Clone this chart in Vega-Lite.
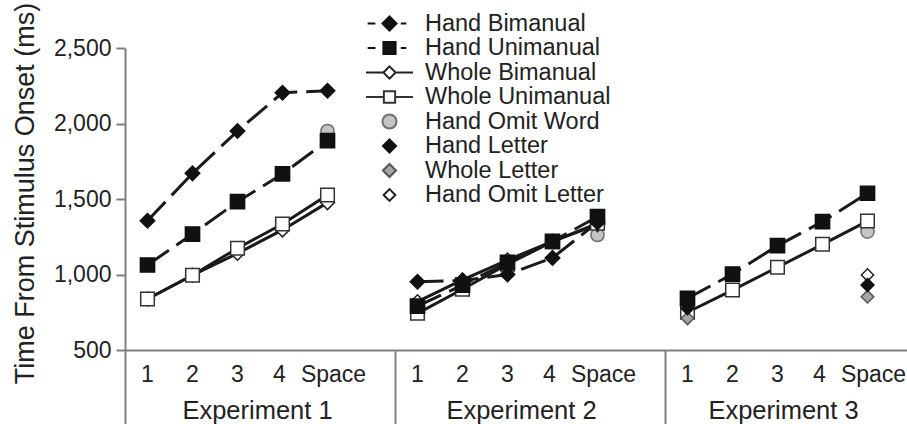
{
  "$schema": "https://vega.github.io/schema/vega-lite/v6.json",
  "width": 782,
  "height": 302,
  "autosize": {"type": "none"},
  "padding": {"left": 125, "top": 48, "right": 0, "bottom": 74},
  "background": "white",
  "config": {
    "view": {"stroke": null},
    "font": "Liberation Sans",
    "axis": {"labelFont": "Liberation Sans", "titleFont": "Liberation Sans"},
    "legend": {"labelFont": "Liberation Sans"}
  },
  "data": {
    "values": [
      {"exp": 1, "slot": "1|Space", "series": "Hand Omit Word", "ms": 1950},
      {"exp": 2, "slot": "2|Space", "series": "Hand Omit Word", "ms": 1262},
      {"exp": 3, "slot": "3|Space", "series": "Hand Omit Word", "ms": 1284},
      {"exp": 1, "slot": "1|1", "series": "Whole Bimanual", "ms": 838},
      {"exp": 1, "slot": "1|2", "series": "Whole Bimanual", "ms": 995},
      {"exp": 1, "slot": "1|3", "series": "Whole Bimanual", "ms": 1140},
      {"exp": 1, "slot": "1|4", "series": "Whole Bimanual", "ms": 1295},
      {"exp": 1, "slot": "1|Space", "series": "Whole Bimanual", "ms": 1476},
      {"exp": 2, "slot": "2|1", "series": "Whole Bimanual", "ms": 820},
      {"exp": 2, "slot": "2|2", "series": "Whole Bimanual", "ms": 964},
      {"exp": 2, "slot": "2|3", "series": "Whole Bimanual", "ms": 1096},
      {"exp": 2, "slot": "2|4", "series": "Whole Bimanual", "ms": 1220},
      {"exp": 2, "slot": "2|Space", "series": "Whole Bimanual", "ms": 1330},
      {"exp": 1, "slot": "1|1", "series": "Whole Unimanual", "ms": 838},
      {"exp": 1, "slot": "1|2", "series": "Whole Unimanual", "ms": 995},
      {"exp": 1, "slot": "1|3", "series": "Whole Unimanual", "ms": 1174},
      {"exp": 1, "slot": "1|4", "series": "Whole Unimanual", "ms": 1334},
      {"exp": 1, "slot": "1|Space", "series": "Whole Unimanual", "ms": 1527},
      {"exp": 2, "slot": "2|1", "series": "Whole Unimanual", "ms": 743},
      {"exp": 2, "slot": "2|2", "series": "Whole Unimanual", "ms": 902},
      {"exp": 2, "slot": "2|3", "series": "Whole Unimanual", "ms": 1068},
      {"exp": 2, "slot": "2|4", "series": "Whole Unimanual", "ms": 1217},
      {"exp": 2, "slot": "2|Space", "series": "Whole Unimanual", "ms": 1339},
      {"exp": 3, "slot": "3|1", "series": "Whole Unimanual", "ms": 750},
      {"exp": 3, "slot": "3|2", "series": "Whole Unimanual", "ms": 897},
      {"exp": 3, "slot": "3|3", "series": "Whole Unimanual", "ms": 1048},
      {"exp": 3, "slot": "3|4", "series": "Whole Unimanual", "ms": 1200},
      {"exp": 3, "slot": "3|Space", "series": "Whole Unimanual", "ms": 1354},
      {"exp": 1, "slot": "1|1", "series": "Hand Unimanual", "ms": 1063},
      {"exp": 1, "slot": "1|2", "series": "Hand Unimanual", "ms": 1268},
      {"exp": 1, "slot": "1|3", "series": "Hand Unimanual", "ms": 1482},
      {"exp": 1, "slot": "1|4", "series": "Hand Unimanual", "ms": 1666},
      {"exp": 1, "slot": "1|Space", "series": "Hand Unimanual", "ms": 1886},
      {"exp": 2, "slot": "2|1", "series": "Hand Unimanual", "ms": 790},
      {"exp": 2, "slot": "2|2", "series": "Hand Unimanual", "ms": 930},
      {"exp": 2, "slot": "2|3", "series": "Hand Unimanual", "ms": 1080},
      {"exp": 2, "slot": "2|4", "series": "Hand Unimanual", "ms": 1220},
      {"exp": 2, "slot": "2|Space", "series": "Hand Unimanual", "ms": 1383},
      {"exp": 3, "slot": "3|1", "series": "Hand Unimanual", "ms": 842},
      {"exp": 3, "slot": "3|2", "series": "Hand Unimanual", "ms": 1003},
      {"exp": 3, "slot": "3|3", "series": "Hand Unimanual", "ms": 1191},
      {"exp": 3, "slot": "3|4", "series": "Hand Unimanual", "ms": 1350},
      {"exp": 3, "slot": "3|Space", "series": "Hand Unimanual", "ms": 1538},
      {"exp": 1, "slot": "1|1", "series": "Hand Bimanual", "ms": 1356},
      {"exp": 1, "slot": "1|2", "series": "Hand Bimanual", "ms": 1670},
      {"exp": 1, "slot": "1|3", "series": "Hand Bimanual", "ms": 1950},
      {"exp": 1, "slot": "1|4", "series": "Hand Bimanual", "ms": 2204},
      {"exp": 1, "slot": "1|Space", "series": "Hand Bimanual", "ms": 2217},
      {"exp": 2, "slot": "2|1", "series": "Hand Bimanual", "ms": 952},
      {"exp": 2, "slot": "2|2", "series": "Hand Bimanual", "ms": 960},
      {"exp": 2, "slot": "2|3", "series": "Hand Bimanual", "ms": 1000},
      {"exp": 2, "slot": "2|4", "series": "Hand Bimanual", "ms": 1110},
      {"exp": 2, "slot": "2|Space", "series": "Hand Bimanual", "ms": 1345},
      {"exp": 3, "slot": "3|Space", "series": "Hand Omit Letter", "ms": 997},
      {"exp": 3, "slot": "3|1", "series": "Whole Letter", "ms": 710},
      {"exp": 3, "slot": "3|Space", "series": "Whole Letter", "ms": 853},
      {"exp": 3, "slot": "3|1", "series": "Hand Letter", "ms": 776},
      {"exp": 3, "slot": "3|Space", "series": "Hand Letter", "ms": 930}
    ]
  },
  "encoding": {
    "y": {
      "field": "ms",
      "type": "quantitative",
      "scale": {"domain": [500, 2500], "nice": false, "zero": false},
      "axis": {
        "values": [500, 1000, 1500, 2000, 2500],
        "format": ",.0f",
        "grid": false,
        "title": "Time From Stimulus Onset (ms)",
        "titleFontSize": 27,
        "titleFontWeight": "normal",
        "titleColor": "#222222",
        "titleAngle": 270,
        "titleAlign": "center",
        "titleBaseline": "middle",
        "titleX": -100,
        "titleY": 145,
        "labelFontSize": 23,
        "labelColor": "#222222",
        "labelPadding": 5,
        "tickSize": 9,
        "tickWidth": 2,
        "tickColor": "#808080",
        "domainColor": "#808080",
        "domainWidth": 2
      }
    }
  },
  "layer": [
    {
      "transform": [{"filter": {"field": "series", "oneOf": ["Hand Bimanual", "Hand Unimanual"]}}],
      "mark": {"type": "line", "color": "#1a1a1a", "strokeWidth": 3, "strokeDash": [26, 9]},
      "encoding": {
        "x": {
          "field": "slot",
          "type": "nominal",
          "scale": {"type": "band", "domain": ["1|1", "1|2", "1|3", "1|4", "1|Space", "1|gap", "2|1", "2|2", "2|3", "2|4", "2|Space", "2|gap", "3|1", "3|2", "3|3", "3|4", "3|Space", "3|gap"], "range": [0, 810], "paddingInner": 0, "paddingOuter": 0},
          "axis": {
            "orient": "bottom",
            "title": null,
            "ticks": false,
            "tickSize": 0,
            "domain": true,
            "domainColor": "#808080",
            "domainWidth": 2,
            "labelExpr": "indexof(datum.value, 'gap') >= 0 ? '' : split(datum.value, '|')[1]",
            "labelAngle": 0,
            "labelFontSize": 23,
            "labelColor": "#222222",
            "labelPadding": 13.5,
            "labelOffset": {"condition": [{"test": "indexof(datum.value, 'Space') >= 0", "value": 6}, {"test": "indexof(datum.value, '4') >= 0", "value": -3}], "value": 0},
            "grid": false
          }
        },
        "detail": [{"field": "series"}, {"field": "exp"}]
      }
    },
    {
      "transform": [{"filter": {"field": "series", "oneOf": ["Whole Bimanual", "Whole Unimanual"]}}],
      "mark": {"type": "line", "color": "#1a1a1a", "strokeWidth": 3},
      "encoding": {
        "x": {
          "field": "slot",
          "type": "nominal",
          "scale": {"type": "band", "domain": ["1|1", "1|2", "1|3", "1|4", "1|Space", "1|gap", "2|1", "2|2", "2|3", "2|4", "2|Space", "2|gap", "3|1", "3|2", "3|3", "3|4", "3|Space", "3|gap"], "range": [0, 810], "paddingInner": 0, "paddingOuter": 0},
          "axis": {
            "orient": "bottom",
            "title": null,
            "values": ["1|3", "2|3", "3|3"],
            "ticks": false,
            "tickSize": 0,
            "domain": false,
            "labelExpr": "'Experiment ' + split(datum.value, '|')[0]",
            "labelAngle": 0,
            "labelFontSize": 25.5,
            "labelColor": "#222222",
            "labelPadding": 48,
            "labelOffset": {"condition": [{"test": "datum.value === '1|3'", "value": 20}, {"test": "datum.value === '2|3'", "value": 14}], "value": 6},
            "grid": false
          }
        },
        "detail": [{"field": "series"}, {"field": "exp"}]
      }
    },
    {
      "mark": {"type": "point", "filled": true, "opacity": 1, "strokeWidth": 1.5},
      "encoding": {
        "x": {
          "field": "slot",
          "type": "nominal",
          "scale": {"type": "band", "domain": ["1|1", "1|2", "1|3", "1|4", "1|Space", "1|gap", "2|1", "2|2", "2|3", "2|4", "2|Space", "2|gap", "3|1", "3|2", "3|3", "3|4", "3|Space", "3|gap"], "range": [0, 810], "paddingInner": 0, "paddingOuter": 0},
          "axis": {
            "orient": "bottom",
            "title": null,
            "values": ["1|1", "2|1", "3|1"],
            "bandPosition": 0,
            "ticks": true,
            "tickSize": 74,
            "tickWidth": 2,
            "tickColor": "#808080",
            "labels": false,
            "domain": false,
            "grid": false
          }
        },
        "shape": {
          "field": "series",
          "type": "nominal",
          "scale": {
            "domain": ["Hand Bimanual", "Hand Unimanual", "Whole Bimanual", "Whole Unimanual", "Hand Omit Word", "Hand Letter", "Whole Letter", "Hand Omit Letter"],
            "range": ["diamond", "square", "diamond", "square", "circle", "diamond", "diamond", "diamond"]
          },
          "legend": null
        },
        "fill": {
          "field": "series",
          "type": "nominal",
          "scale": {
            "domain": ["Hand Bimanual", "Hand Unimanual", "Whole Bimanual", "Whole Unimanual", "Hand Omit Word", "Hand Letter", "Whole Letter", "Hand Omit Letter"],
            "range": ["#111111", "#111111", "#ffffff", "#ffffff", "#c4c4c4", "#111111", "#a6a6a6", "#ffffff"]
          },
          "legend": null
        },
        "stroke": {
          "field": "series",
          "type": "nominal",
          "scale": {
            "domain": ["Hand Bimanual", "Hand Unimanual", "Whole Bimanual", "Whole Unimanual", "Hand Omit Word", "Hand Letter", "Whole Letter", "Hand Omit Letter"],
            "range": ["#111111", "#111111", "#222222", "#333333", "#707070", "#111111", "#555555", "#222222"]
          },
          "legend": null
        },
        "size": {
          "field": "series",
          "type": "nominal",
          "scale": {
            "domain": ["Hand Bimanual", "Hand Unimanual", "Whole Bimanual", "Whole Unimanual", "Hand Omit Word", "Hand Letter", "Whole Letter", "Hand Omit Letter"],
            "range": [210, 150, 170, 150, 220, 210, 210, 170]
          },
          "legend": null
        }
      }
    },
    {
      "transform": [{"filter": "false"}],
      "mark": {"type": "point", "filled": true, "opacity": 1, "strokeWidth": 2},
      "encoding": {
        "x": {
          "field": "slot",
          "type": "nominal",
          "scale": {"type": "band", "domain": ["1|1", "1|2", "1|3", "1|4", "1|Space", "1|gap", "2|1", "2|2", "2|3", "2|4", "2|Space", "2|gap", "3|1", "3|2", "3|3", "3|4", "3|Space", "3|gap"], "range": [0, 810], "paddingInner": 0, "paddingOuter": 0},
          "axis": null
        },
        "shape": {
          "field": "series",
          "type": "nominal",
          "scale": {
            "domain": ["Hand Bimanual", "Hand Unimanual", "Whole Bimanual", "Whole Unimanual", "Hand Omit Word", "Hand Letter", "Whole Letter", "Hand Omit Letter"],
            "range": [
              "M-0.93,0H-0.6M0.48,0H0.72M0,-0.3L0.3,0L0,0.3L-0.3,0Z",
              "M-0.93,0H-0.6M0.48,0H0.72M-0.26,-0.26H0.26V0.26H-0.26Z",
              "M-1,0H-0.26M0.26,0H1M0,-0.26L0.26,0L0,0.26L-0.26,0Z",
              "M-1,0H-0.24M0.24,0H1M-0.24,-0.24H0.24V0.24H-0.24Z",
              "M0.3,0A0.3,0.3,0,1,1,-0.3,0A0.3,0.3,0,1,1,0.3,0Z",
              "M0,-0.28L0.28,0L0,0.28L-0.28,0Z",
              "M0,-0.28L0.28,0L0,0.28L-0.28,0Z",
              "M0,-0.25L0.25,0L0,0.25L-0.25,0Z"
            ]
          },
          "legend": {
            "title": null,
            "orient": "none",
            "direction": "vertical",
            "legendX": 240,
            "legendY": -36.5,
            "padding": 0,
            "symbolSize": 2209,
            "symbolStrokeWidth": 2,
            "labelFontSize": 23.5,
            "labelColor": "#222222",
            "labelOffset": 11,
            "labelLimit": 400,
            "clipHeight": 24,
            "rowPadding": 0.5
          }
        },
        "fill": {
          "field": "series",
          "type": "nominal",
          "scale": {
            "domain": ["Hand Bimanual", "Hand Unimanual", "Whole Bimanual", "Whole Unimanual", "Hand Omit Word", "Hand Letter", "Whole Letter", "Hand Omit Letter"],
            "range": ["#111111", "#111111", "#ffffff", "#ffffff", "#c4c4c4", "#111111", "#a6a6a6", "#ffffff"]
          }
        },
        "stroke": {
          "field": "series",
          "type": "nominal",
          "scale": {
            "domain": ["Hand Bimanual", "Hand Unimanual", "Whole Bimanual", "Whole Unimanual", "Hand Omit Word", "Hand Letter", "Whole Letter", "Hand Omit Letter"],
            "range": ["#111111", "#111111", "#222222", "#333333", "#707070", "#111111", "#555555", "#222222"]
          }
        }
      }
    }
  ],
  "resolve": {
    "axis": {"x": "independent"},
    "scale": {"shape": "independent", "fill": "independent", "stroke": "independent", "size": "independent"}
  }
}
